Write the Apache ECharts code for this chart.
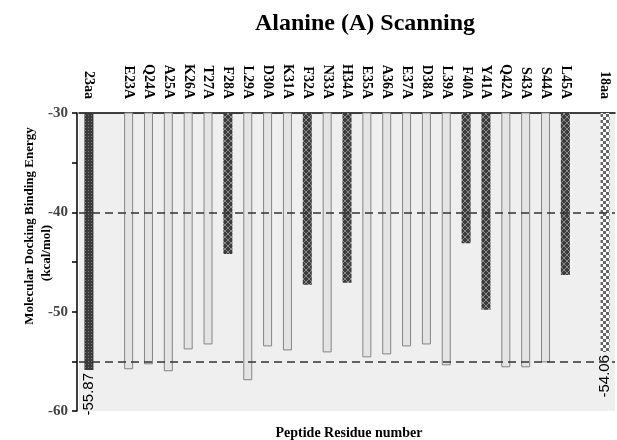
<!DOCTYPE html>
<html>
<head>
<meta charset="utf-8">
<script src="https://cdn.jsdelivr.net/npm/echarts@6/dist/echarts.min.js"></script>
<style>
  html, body { margin: 0; padding: 0; background: #fff; }
  #chart { width: 617px; height: 440px; }
</style>
</head>
<body>
<div id="chart"></div>
<script>
// residues on the top axis ('' = empty slot)
const categories = ['23aa', '', 'E23A', 'Q24A', 'A25A', 'K26A', 'T27A', 'F28A', 'L29A', 'D30A',
  'K31A', 'F32A', 'N33A', 'H34A', 'E35A', 'A36A', 'E37A', 'D38A', 'L39A', 'F40A', 'Y41A',
  'Q42A', 'S43A', 'S44A', 'L45A', '', '18aa'];
// docking energy, kcal/mol
const energy = [-55.87, null, -55.8, -55.3, -56.0, -53.8, -53.3, -44.2, -56.9, -53.5,
  -53.9, -47.3, -54.1, -47.1, -54.6, -54.3, -53.5, -53.3, -55.4, -43.1, -49.8,
  -55.6, -55.6, -55.1, -46.3, null, -54.06];
const hotspots = ['F28A', 'F32A', 'H34A', 'F40A', 'Y41A', 'L45A'];
const wildTypes = ['23aa', '18aa'];
const thresholds = [-40, -55];
const yMin = -60, yMax = -30, yStep = 10;

const serif = '"Liberation Serif", "Times New Roman", serif';

function makePattern(size, bg, draw) {
  let c = document.createElement('canvas');
  c.width = size; c.height = size;
  let ctx = c.getContext('2d');
  ctx.fillStyle = bg;
  ctx.fillRect(0, 0, size, size);
  draw(ctx);
  return c;
}
// fine dots for 23aa
let dotPat = makePattern(3, '#3a3a3a', ctx => {
  ctx.fillStyle = '#7a7a7a';
  ctx.fillRect(1, 1, 1, 1);
});
// checker for 18aa
let checkPat = makePattern(6, '#ffffff', ctx => {
  ctx.fillStyle = '#666';
  ctx.fillRect(0, 0, 3, 3);
  ctx.fillRect(3, 3, 3, 3);
});
// crosshatch for hotspots
let crossPat = makePattern(6, '#3c3c3c', ctx => {
  ctx.fillStyle = '#8a8a8a';
  ctx.fillRect(0, 0, 1, 1); ctx.fillRect(1, 1, 1, 1); ctx.fillRect(2, 2, 2, 2);
  ctx.fillRect(4, 1, 1, 1); ctx.fillRect(5, 0, 1, 1); ctx.fillRect(1, 4, 1, 1); ctx.fillRect(0, 5, 1, 1);
  ctx.fillRect(4, 4, 1, 1); ctx.fillRect(5, 5, 1, 1);
});

let barData = categories.map((name, i) => {
  let v = energy[i];
  if (v == null) return null;
  let item = { value: v };
  if (name === '23aa') {
    item.itemStyle = { color: { image: dotPat, repeat: 'repeat' }, borderWidth: 0 };
  } else if (name === '18aa') {
    item.itemStyle = { color: { image: checkPat, repeat: 'repeat' }, borderWidth: 0 };
  } else if (hotspots.indexOf(name) >= 0) {
    item.itemStyle = { color: { image: crossPat, repeat: 'repeat' }, borderWidth: 0 };
  }
  if (wildTypes.indexOf(name) >= 0) {
    item.label = {
      show: true,
      position: 'bottom',
      rotate: 90,
      align: 'right',
      verticalAlign: 'middle',
      distance: 3,
      formatter: p => p.value.toFixed(2),
      color: '#000',
      fontSize: 15,
      fontFamily: '"Liberation Sans", Arial, sans-serif'
    };
  }
  return item;
});

let chart = echarts.init(document.getElementById('chart'));
let option = {
  animation: false,
  backgroundColor: '#fff',
  title: {
    text: 'Alanine (A) Scanning',
    left: 250,
    top: 7,
    textStyle: { fontFamily: serif, fontWeight: 'bold', fontSize: 24, color: '#000' }
  },
  grid: {
    left: 79,
    right: 2,
    top: 113,
    bottom: 29,
    show: true,
    backgroundColor: '#efefef',
    borderWidth: 0
  },
  xAxis: {
    type: 'category',
    position: 'top',
    data: categories,
    axisLine: { lineStyle: { color: '#000', width: 1.5 } },
    axisTick: { alignWithLabel: true, length: 5, interval: 0, lineStyle: { color: '#000', width: 1.5 } },
    axisLabel: {
      interval: 0,
      rotate: 90,
      margin: 14,
      color: '#000',
      fontFamily: serif,
      fontWeight: 'bold',
      fontSize: 14
    },
    splitLine: { show: false }
  },
  yAxis: {
    type: 'value',
    min: yMin,
    max: yMax,
    interval: yStep,
    offset: 2,
    axisLine: { show: true, lineStyle: { color: '#000', width: 1.5 } },
    axisTick: { show: true, length: 5, lineStyle: { color: '#000', width: 1.5 } },
    minorTick: { show: true, splitNumber: 2, length: 5, lineStyle: { color: '#000', width: 1.5 } },
    axisLabel: {
      margin: 9,
      color: '#444',
      fontFamily: serif,
      fontWeight: 'bold',
      fontSize: 15
    },
    splitLine: { show: false }
  },
  graphic: [
    {
      type: 'text', x: 30, y: 226, rotation: Math.PI / 2,
      style: { text: 'Molecular Docking Binding Energy', align: 'center', verticalAlign: 'middle',
        font: 'bold 13px ' + serif, fill: '#000' }
    },
    {
      type: 'text', x: 47, y: 253, rotation: Math.PI / 2,
      style: { text: '(kcal/mol)', align: 'center', verticalAlign: 'middle',
        font: 'bold 13px ' + serif, fill: '#000' }
    },
    {
      type: 'text', x: 349, y: 433,
      style: { text: 'Peptide Residue number', align: 'center', verticalAlign: 'middle',
        font: 'bold 14px ' + serif, fill: '#000' }
    }
  ],
  series: [
    {
      type: 'bar',
      data: barData,
      barWidth: 9,
      clip: true,
      itemStyle: { color: '#e4e4e4', borderColor: '#858585', borderWidth: 1 },
      markLine: {
        silent: true,
        symbol: ['none', 'none'],
        label: { show: false },
        lineStyle: { color: '#333', type: [8, 5], width: 1.5 },
        data: thresholds.map(v => ({ yAxis: v }))
      }
    }
  ]
};
chart.setOption(option);
</script>
</body>
</html>
